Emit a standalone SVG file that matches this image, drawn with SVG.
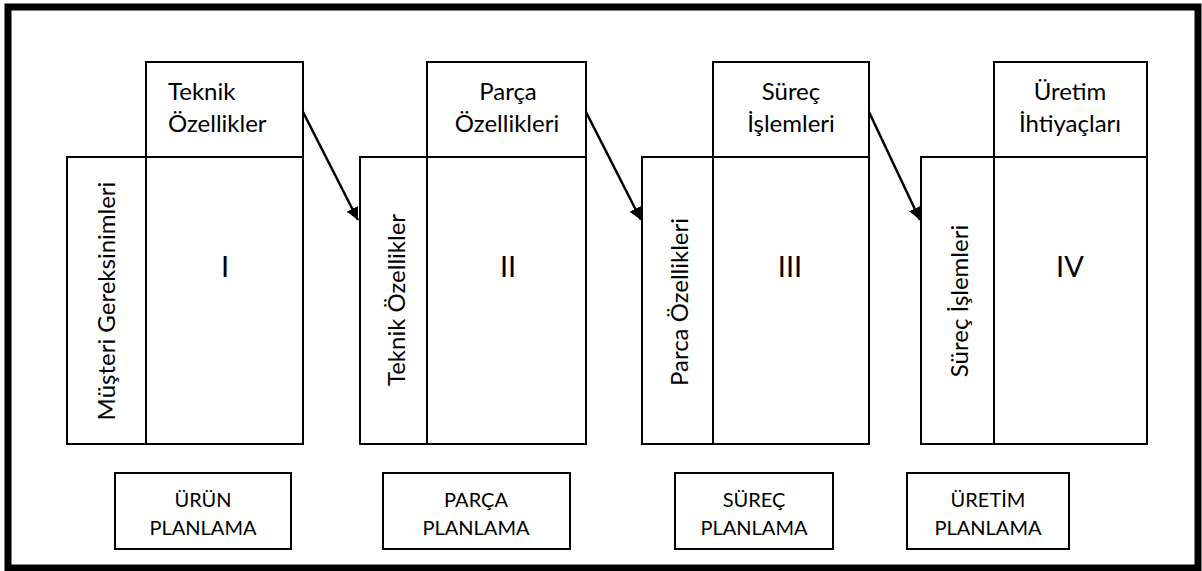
<svg xmlns="http://www.w3.org/2000/svg" width="1202" height="571" viewBox="0 0 1202 571">
<defs>
<style>
.box{fill:#fff;stroke:#000;stroke-width:2}
.frame{fill:#fff;stroke:#000;stroke-width:7}
.t{font-family:Lato,"Liberation Sans",sans-serif;font-size:24px;fill:#000;text-anchor:middle}
.l{text-anchor:start}
.n{font-family:Lato,"Liberation Sans",sans-serif;font-size:29px;fill:#000;text-anchor:middle}
.b{font-family:Lato,"Liberation Sans",sans-serif;font-size:20px;fill:#000;text-anchor:middle}
.c{stroke:#000;stroke-width:2.5;fill:none;marker-end:url(#ah)}
</style>
<marker id="ah" viewBox="0 0 10 10" refX="10" refY="5" markerWidth="5" markerHeight="5" orient="auto" markerUnits="strokeWidth">
<path d="M0,0 L10,5 L0,10 z" fill="#000"/>
</marker>
</defs>
<rect class="frame" x="8" y="7" width="1190" height="561"/>

<g id="stage1">
<rect class="box" x="146" y="62" width="157" height="95"/>
<text class="t l" x="168" y="100">Teknik</text>
<text class="t l" x="168" y="132">Özellikler</text>
<rect class="box" x="67" y="157" width="79" height="287"/>
<rect class="box" x="146" y="157" width="157" height="287"/>
<text class="t" transform="translate(115,301) rotate(-90)">Müşteri Gereksinimleri</text>
<text class="n" x="225" y="277">I</text>
</g>

<g id="stage2">
<rect class="box" x="427" y="62" width="159" height="95"/>
<text class="t" x="508" y="100">Parça</text>
<text class="t" x="507" y="132">Özellikleri</text>
<rect class="box" x="360" y="157" width="67" height="287"/>
<rect class="box" x="427" y="157" width="159" height="287"/>
<text class="t" transform="translate(405,300) rotate(-90)">Teknik Özellikler</text>
<text class="n" x="508" y="277">II</text>
</g>

<g id="stage3">
<rect class="box" x="713" y="62" width="156" height="95"/>
<text class="t" x="791" y="100">Süreç</text>
<text class="t" x="791" y="132">İşlemleri</text>
<rect class="box" x="642" y="157" width="71" height="287"/>
<rect class="box" x="713" y="157" width="156" height="287"/>
<text class="t" transform="translate(688,302) rotate(-90)">Parca Özellikleri</text>
<text class="n" x="790" y="277">III</text>
</g>

<g id="stage4">
<rect class="box" x="994" y="62" width="153" height="95"/>
<text class="t" x="1070" y="100">Üretim</text>
<text class="t" x="1070" y="132">İhtiyaçları</text>
<rect class="box" x="921" y="157" width="73" height="287"/>
<rect class="box" x="994" y="157" width="153" height="287"/>
<text class="t" transform="translate(968,301) rotate(-90)">Süreç İşlemleri</text>
<text class="n" x="1070" y="277">IV</text>
</g>

<g id="label1">
<rect class="box" x="115" y="473" width="176" height="76"/>
<text class="b" x="203" y="507">ÜRÜN</text>
<text class="b" x="203" y="535">PLANLAMA</text>
</g>
<g id="label2">
<rect class="box" x="383" y="473" width="187" height="76"/>
<text class="b" x="476" y="507">PARÇA</text>
<text class="b" x="476" y="535">PLANLAMA</text>
</g>
<g id="label3">
<rect class="box" x="675" y="473" width="158" height="76"/>
<text class="b" x="754" y="507">SÜREÇ</text>
<text class="b" x="754" y="535">PLANLAMA</text>
</g>
<g id="label4">
<rect class="box" x="907" y="473" width="162" height="76"/>
<text class="b" x="988" y="507">ÜRETİM</text>
<text class="b" x="988" y="535">PLANLAMA</text>
</g>

<g id="connectors">
<line class="c" x1="303" y1="112" x2="358" y2="220"/>
<line class="c" x1="586" y1="112" x2="641" y2="220"/>
<line class="c" x1="869" y1="112" x2="920" y2="220"/>
</g>
</svg>
